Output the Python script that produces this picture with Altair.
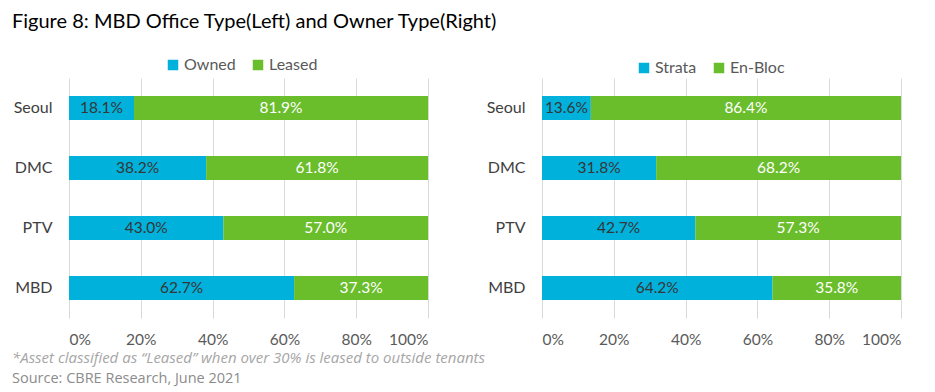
import altair as alt
import pandas as pd

TITLE = "Figure 8: MBD Office Type(Left) and Owner Type(Right)"
categories = ["Seoul", "DMC", "PTV", "MBD"]

left_series = ["Owned", "Leased"]
left_owned = [18.1, 38.2, 43.0, 62.7]
left_leased = [81.9, 61.8, 57.0, 37.3]

right_series = ["Strata", "En-Bloc"]
right_strata = [13.6, 31.8, 42.7, 64.2]
right_enbloc = [86.4, 68.2, 57.3, 35.8]

tick_values = [0, 20, 40, 60, 80, 100]
footnote = "*Asset classified as \u201cLeased\u201d when over 30% is leased to outside tenants"
source = "Source: CBRE Research, June 2021"

BLUE = "#00B1DC"
GREEN = "#6ABD2B"
FONT = "Lato"
W, H = 359, 240


def make_df(names, a, b):
    rows = []
    for i, c in enumerate(categories):
        rows.append({"cat": c, "series": names[0], "value": a[i], "order": 0})
        rows.append({"cat": c, "series": names[1], "value": b[i], "order": 1})
    return pd.DataFrame(rows)


def panel(names, a, b, legend_x, legend_y):
    df = make_df(names, a, b)
    base = alt.Chart(df)
    y = alt.Y("cat:N", sort=categories, title=None,
              scale=alt.Scale(paddingInner=0.6, paddingOuter=0.3),
              axis=alt.Axis(labelFontSize=16, labelColor="#404040", labelFont=FONT,
                            ticks=False, domain=False, labelPadding=17))
    bars = base.mark_bar().encode(
        x=alt.X("value:Q", stack="zero", title=None,
                scale=alt.Scale(domain=[0, 100], nice=False),
                axis=alt.Axis(values=tick_values, labelExpr="datum.value + '%'",
                              labelFontSize=15.5, labelColor="#595959", labelFont=FONT,
                              gridColor="#d9d9d9", domain=False, ticks=False,
                              labelPadding=14)),
        y=y,
        color=alt.Color("series:N", scale=alt.Scale(domain=names, range=[BLUE, GREEN]),
                        legend=alt.Legend(orient="none", legendX=legend_x, legendY=legend_y,
                                          direction="horizontal", title=None,
                                          symbolType="square", symbolSize=110,
                                          symbolStrokeWidth=0,
                                          labelFontSize=16, labelColor="#595959",
                                          labelFont=FONT, columnPadding=14,
                                          symbolOffset=0, labelOffset=3)),
        order=alt.Order("order:Q"),
    )
    text = base.transform_stack(
        stack="value", groupby=["cat"], as_=["x0", "x1"],
        sort=[alt.SortField("order", "ascending")]
    ).transform_calculate(
        mid="(datum.x0 + datum.x1) / 2",
        label="format(datum.value, '.1f') + '%'"
    ).mark_text(fontSize=15.5, font=FONT, baseline="middle").encode(
        x=alt.X("mid:Q"),
        y=y,
        text="label:N",
        color=alt.condition(alt.datum.series == names[0], alt.value("#363636"), alt.value("#ffffff")),
    )
    return alt.layer(bars, text).properties(width=W, height=H)


left = panel(left_series, left_owned, left_leased, 96, -21)
right = panel(right_series, right_strata, right_enbloc, 94, -18)
panels = alt.hconcat(left, right, spacing=58).resolve_scale(color="independent")

ndf = pd.DataFrame({"t": [footnote]})
sdf = pd.DataFrame({"t": [source]})
n1 = alt.Chart(ndf).mark_text(align="left", baseline="middle", fontSize=15,
                              fontStyle="italic", font="Open Sans", color="#a6a6a6").encode(
    x=alt.value(-57), y=alt.value(10), text="t:N")
n2 = alt.Chart(sdf).mark_text(align="left", baseline="middle", fontSize=14.5,
                              font="Open Sans", color="#8c8c8c").encode(
    x=alt.value(-57), y=alt.value(31), text="t:N")
notes = alt.layer(n1, n2).properties(width=1, height=40)

chart = alt.vconcat(panels, notes, spacing=0).properties(
    title=alt.TitleParams(TITLE, anchor="start", fontSize=20, font=FONT,
                          fontWeight="normal", color="#000000", offset=25),
    padding={"left": 4, "top": 4, "right": 5, "bottom": 2},
).configure_view(stroke=None)

chart.save("out.html", embed_options={"renderer": "svg", "actions": False})
